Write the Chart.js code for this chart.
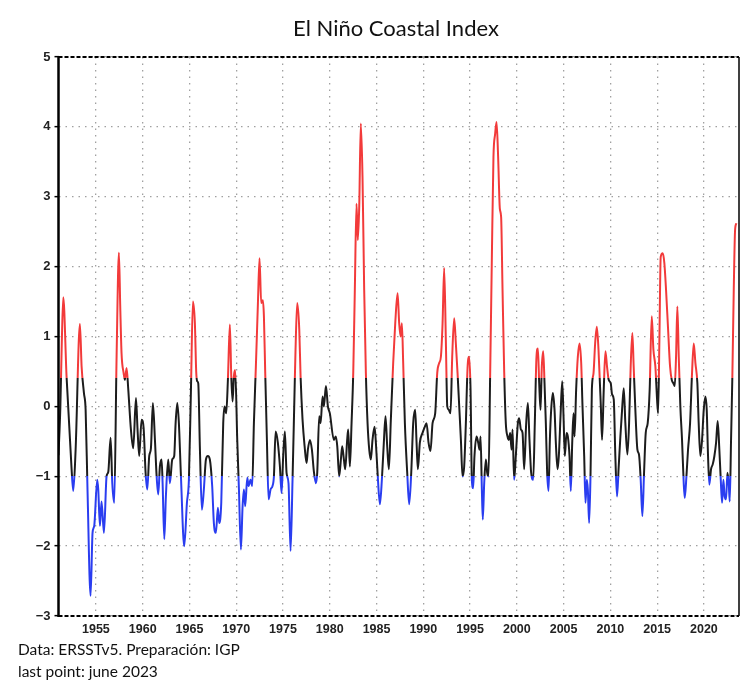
<!DOCTYPE html>
<html>
<head>
<meta charset="utf-8">
<title>El Niño Coastal Index</title>
<script src="https://cdn.jsdelivr.net/npm/chart.js@4.4.1/dist/chart.umd.min.js"></script>
<style>
  html, body { margin: 0; padding: 0; background: #fff; }
  #wrap { position: relative; width: 741px; height: 686px; overflow: hidden; }
  #chart { position: absolute; left: 0; top: 0; }
  .txt { position: absolute; font-family: Lato, "Open Sans", sans-serif; color: #111; white-space: nowrap; }
  #title { left: 396px; top: 14px; font-size: 22px; transform: translateX(-50%); }
  #src { left: 18px; top: 640px; font-size: 15.5px; }
  #last { left: 18px; top: 662px; font-size: 15.5px; }
</style>
</head>
<body>
<div id="wrap">
  <canvas id="chart" width="741" height="686"></canvas>
  <div class="txt" id="title">El Niño Coastal Index</div>
  <div class="txt" id="src">Data: ERSSTv5. Preparación: IGP</div>
  <div class="txt" id="last">last point: june 2023</div>
</div>
<script>
// fechas (año decimal) y valores del índice
const years = [
  1951.00, 1951.20, 1951.35, 1951.51, 1951.86, 1952.40, 1952.58, 1952.83, 1953.29, 1953.47,
  1953.72, 1953.90, 1954.10, 1954.43, 1954.64, 1954.82, 1955.14, 1955.25, 1955.43, 1955.60,
  1955.86, 1956.14, 1956.32, 1956.57, 1956.75, 1956.96, 1957.21, 1957.46, 1957.60, 1957.74,
  1957.96, 1958.10, 1958.28, 1958.46, 1958.74, 1958.99, 1959.28, 1959.45, 1959.63, 1959.88,
  1960.10, 1960.31, 1960.49, 1960.70, 1960.88, 1961.09, 1961.31, 1961.49, 1961.66, 1961.84,
  1962.02, 1962.13, 1962.31, 1962.48, 1962.73, 1962.91, 1963.16, 1963.37, 1963.52, 1963.70,
  1963.87, 1964.09, 1964.44, 1964.73, 1964.94, 1965.16, 1965.37, 1965.58, 1965.72, 1965.83,
  1965.94, 1966.12, 1966.33, 1966.54, 1966.76, 1966.97, 1967.18, 1967.43, 1967.61, 1967.83,
  1968.04, 1968.18, 1968.40, 1968.61, 1968.75, 1968.93, 1969.11, 1969.32, 1969.47, 1969.61,
  1969.75, 1969.89, 1970.11, 1970.29, 1970.50, 1970.68, 1970.82, 1970.96, 1971.18, 1971.32,
  1971.53, 1971.71, 1971.89, 1972.10, 1972.32, 1972.49, 1972.67, 1972.85, 1972.96, 1973.10,
  1973.28, 1973.46, 1973.67, 1973.88, 1974.03, 1974.21, 1974.45, 1974.67, 1974.85, 1975.02,
  1975.20, 1975.38, 1975.59, 1975.81, 1976.02, 1976.24, 1976.34, 1976.52, 1976.74, 1976.88,
  1977.09, 1977.31, 1977.52, 1977.66, 1977.88, 1978.09, 1978.30, 1978.52, 1978.66, 1978.87,
  1979.02, 1979.23, 1979.37, 1979.59, 1979.80, 1980.01, 1980.44, 1980.65, 1980.80, 1981.01,
  1981.19, 1981.33, 1981.51, 1981.65, 1981.86, 1981.97, 1982.15, 1982.33, 1982.51, 1982.68,
  1982.86, 1983.00, 1983.15, 1983.32, 1983.50, 1983.68, 1983.86, 1984.04, 1984.22, 1984.39,
  1984.57, 1984.79, 1984.93, 1985.11, 1985.36, 1985.57, 1985.78, 1985.96, 1986.14, 1986.32,
  1986.53, 1986.78, 1987.00, 1987.25, 1987.42, 1987.57, 1987.71, 1987.85, 1988.03, 1988.28,
  1988.49, 1988.71, 1988.92, 1989.13, 1989.28, 1989.42, 1989.63, 1989.92, 1990.17, 1990.35,
  1990.56, 1990.77, 1990.99, 1991.27, 1991.49, 1991.70, 1991.88, 1992.06, 1992.23, 1992.41,
  1992.56, 1992.73, 1992.91, 1993.09, 1993.30, 1993.48, 1993.66, 1993.84, 1994.02, 1994.19,
  1994.37, 1994.55, 1994.73, 1994.90, 1995.05, 1995.19, 1995.33, 1995.47, 1995.69, 1995.87,
  1996.01, 1996.12, 1996.26, 1996.36, 1996.51, 1996.69, 1996.83, 1996.97, 1997.15, 1997.33,
  1997.50, 1997.68, 1997.83, 1998.00, 1998.18, 1998.32, 1998.47, 1998.65, 1998.82, 1999.00,
  1999.14, 1999.29, 1999.43, 1999.54, 1999.71, 1999.89, 2000.11, 2000.25, 2000.43, 2000.61,
  2000.78, 2001.00, 2001.18, 2001.35, 2001.53, 2001.75, 2001.92, 2002.10, 2002.25, 2002.39,
  2002.53, 2002.67, 2002.82, 2002.96, 2003.10, 2003.24, 2003.39, 2003.53, 2003.67, 2003.85,
  2004.03, 2004.17, 2004.35, 2004.49, 2004.67, 2004.85, 2004.99, 2005.13, 2005.31, 2005.45,
  2005.63, 2005.77, 2005.92, 2006.06, 2006.17, 2006.34, 2006.52, 2006.70, 2006.88, 2007.02,
  2007.20, 2007.34, 2007.48, 2007.59, 2007.73, 2007.88, 2008.02, 2008.20, 2008.37, 2008.55,
  2008.73, 2008.98, 2009.11, 2009.29, 2009.47, 2009.64, 2009.82, 2010.04, 2010.18, 2010.36,
  2010.53, 2010.71, 2010.89, 2011.07, 2011.25, 2011.43, 2011.60, 2011.82, 2012.00, 2012.17,
  2012.35, 2012.49, 2012.67, 2012.89, 2013.06, 2013.24, 2013.42, 2013.60, 2013.78, 2013.99,
  2014.20, 2014.42, 2014.60, 2014.81, 2014.99, 2015.10, 2015.24, 2015.38, 2015.60, 2015.77,
  2015.95, 2016.17, 2016.38, 2016.56, 2016.74, 2016.88, 2017.02, 2017.16, 2017.31, 2017.48,
  2017.66, 2017.84, 2017.95, 2018.13, 2018.30, 2018.52, 2018.73, 2018.91, 2019.09, 2019.30,
  2019.44, 2019.62, 2019.80, 2019.98, 2020.16, 2020.30, 2020.44, 2020.58, 2020.76, 2020.94,
  2021.12, 2021.30, 2021.47, 2021.65, 2021.80, 2021.94, 2022.08, 2022.22, 2022.37, 2022.51,
  2022.65, 2022.76, 2022.90, 2023.04, 2023.19, 2023.33, 2023.47
];

const icen = [
  -0.70, 0.00, 0.90, 1.56, 0.43, -0.90, -1.21, -0.62, 1.18, 0.57,
  0.19, -0.05, -1.19, -2.71, -1.81, -1.71, -1.05, -1.19, -1.71, -1.36,
  -1.81, -1.00, -0.94, -0.45, -1.10, -1.38, 0.71, 2.20, 1.43, 0.76,
  0.48, 0.38, 0.55, 0.24, -0.33, -0.60, 0.12, -0.33, -0.71, -0.19,
  -0.31, -0.95, -1.19, -0.71, -0.60, 0.05, -0.48, -1.00, -1.26, -0.86,
  -0.76, -1.10, -1.90, -1.29, -0.76, -1.10, -0.76, -0.71, -0.24, 0.05,
  -0.24, -1.00, -2.00, -1.38, -1.05, 0.24, 1.50, 1.19, 0.50, 0.36,
  0.33, -0.62, -1.48, -1.19, -0.76, -0.71, -0.76, -1.14, -1.67, -1.81,
  -1.45, -1.67, -1.38, -0.24, 0.00, -0.10, 0.38, 1.17, 0.43, 0.07,
  0.43, 0.52, -0.48, -1.19, -2.05, -1.43, -1.19, -1.43, -1.02, -1.14,
  -1.05, -1.14, -0.24, 0.57, 1.48, 2.12, 1.48, 1.52, 1.29, 0.48,
  -0.48, -1.33, -1.19, -1.14, -1.00, -0.36, -0.52, -0.86, -1.24, -0.71,
  -0.36, -0.95, -1.10, -2.07, -1.05, 0.24, 0.81, 1.48, 1.10, 0.43,
  -0.19, -0.57, -0.81, -0.62, -0.48, -0.62, -0.93, -1.10, -0.95, -0.14,
  -0.24, 0.14, 0.00, 0.29, 0.00, -0.10, -0.48, -0.43, -0.57, -1.00,
  -0.76, -0.57, -0.76, -0.90, -0.48, -0.33, -0.86, -0.24, 0.48, 1.67,
  2.90, 2.38, 2.86, 4.05, 3.29, 1.67, 0.48, -0.24, -0.62, -0.76,
  -0.48, -0.29, -0.52, -0.95, -1.40, -1.05, -0.52, -0.14, -0.57, -0.90,
  -0.19, 0.62, 1.19, 1.62, 1.19, 1.00, 1.19, 0.62, -0.24, -0.95,
  -1.40, -0.95, -0.24, -0.05, -0.52, -0.90, -0.52, -0.38, -0.29, -0.24,
  -0.52, -0.64, -0.24, -0.10, 0.48, 0.62, 0.71, 1.19, 1.98, 0.95,
  0.00, -0.05, -0.10, 0.71, 1.26, 0.90, 0.48, 0.00, -0.48, -1.00,
  -0.86, -0.24, 0.55, 0.71, 0.24, -1.05, -1.17, -0.71, -0.43, -0.52,
  -0.62, -0.43, -1.19, -1.62, -1.10, -0.76, -0.95, -1.00, 0.48, 2.14,
  3.57, 3.90, 4.07, 3.57, 2.83, 2.71, 1.67, 0.48, -0.24, -0.43,
  -0.48, -0.38, -0.62, -0.33, -1.05, -0.71, -0.24, -0.17, -0.33, -0.38,
  -0.90, -0.24, 0.05, -0.48, -0.95, -1.05, -0.24, 0.71, 0.83, 0.33,
  -0.05, 0.57, 0.79, 0.33, -0.24, -0.95, -1.21, -0.48, -0.05, 0.19,
  -0.05, -0.52, -0.90, -0.71, -0.14, 0.36, -0.14, -0.71, -0.38, -0.43,
  -0.71, -1.21, -0.52, -0.10, -0.43, 0.24, 0.71, 0.90, 0.62, 0.00,
  -0.71, -1.38, -1.05, -1.19, -1.67, -0.95, 0.24, 0.48, 0.90, 1.14,
  0.81, 0.00, -0.48, 0.24, 0.79, 0.57, 0.38, 0.33, 0.17, 0.10,
  -0.71, -1.29, -0.86, -0.43, -0.05, 0.26, -0.24, -0.69, -0.24, 0.57,
  1.05, 0.57, -0.05, -0.62, -0.69, -1.05, -1.57, -0.95, -0.38, -0.24,
  0.24, 1.29, 0.81, 0.57, 0.10, -0.10, 0.95, 2.14, 2.19, 2.05,
  1.67, 1.10, 0.57, 0.38, 0.33, 0.29, 0.71, 1.43, 0.71, 0.00,
  -0.48, -1.10, -1.31, -1.00, -0.62, -0.24, 0.48, 0.90, 0.62, 0.33,
  -0.24, -0.71, -0.48, -0.05, 0.14, -0.05, -0.71, -1.12, -0.90, -0.83,
  -0.71, -0.52, -0.21, -0.62, -1.05, -1.38, -1.05, -1.29, -1.33, -0.95,
  -1.10, -1.36, -0.48, 0.43, 1.67, 2.52, 2.62
];

const xTicks = [1955, 1960, 1965, 1970, 1975, 1980, 1985, 1990, 1995, 2000, 2005, 2010, 2015, 2020];
const yTicks = [-3, -2, -1, 0, 1, 2, 3, 4, 5];

// umbrales de color: cálido > 0.4, frío < -1.0
const warmLimit = 0.4;
const coldLimit = -1.0;

const RED = '#f23a3a';
const BLUE = '#2a3df0';
const BLACK = '#1c1c1c';

function lineColor(context) {
  const chart = context.chart;
  const area = chart.chartArea;
  if (!area) return BLACK;
  const y = chart.scales.y;
  const h = area.bottom - area.top;
  const pWarm = (y.getPixelForValue(warmLimit) - area.top) / h;
  const pCold = (y.getPixelForValue(coldLimit) - area.top) / h;
  const g = chart.ctx.createLinearGradient(0, area.top, 0, area.bottom);
  g.addColorStop(0, RED);
  g.addColorStop(pWarm, RED);
  g.addColorStop(pWarm, BLACK);
  g.addColorStop(pCold, BLACK);
  g.addColorStop(pCold, BLUE);
  g.addColorStop(1, BLUE);
  return g;
}

// marco: eje izquierdo sólido, arriba y abajo discontinuos
const frame = {
  id: 'frame',
  afterDatasetsDraw(chart) {
    const { ctx, chartArea: a } = chart;
    ctx.save();
    ctx.strokeStyle = '#000';
    ctx.lineWidth = 2;
    ctx.setLineDash([4, 2]);
    ctx.beginPath();
    ctx.moveTo(a.left, a.top); ctx.lineTo(a.right, a.top);
    ctx.moveTo(a.left, a.bottom); ctx.lineTo(a.right, a.bottom);
    ctx.stroke();
    ctx.setLineDash([]);
    ctx.lineWidth = 1.5;
    ctx.beginPath();
    ctx.moveTo(a.right, a.top); ctx.lineTo(a.right, a.bottom);
    ctx.stroke();
    ctx.lineWidth = 2.5;
    ctx.beginPath();
    ctx.moveTo(a.left, a.top - 1); ctx.lineTo(a.left, a.bottom + 1);
    ctx.stroke();
    ctx.restore();
  }
};

const tickFont = { family: '"Liberation Sans", Arial, sans-serif', weight: 'bold', size: 13 };
const gridStyle = { color: '#a0a0a0', lineWidth: 1.3 };

new Chart(document.getElementById('chart'), {
  type: 'line',
  data: {
    datasets: [{
      data: years.map((x, i) => ({ x: x, y: icen[i] })),
      borderColor: lineColor,
      borderWidth: 2,
      pointRadius: 0,
      cubicInterpolationMode: 'monotone',
      fill: false
    }]
  },
  options: {
    responsive: false,
    animation: false,
    layout: { padding: { top: 57, right: 2, left: 0, bottom: 0 } },
    plugins: { legend: { display: false }, tooltip: { enabled: false } },
    scales: {
      x: {
        type: 'linear',
        min: 1951,
        max: 2023.75,
        afterBuildTicks: s => { s.ticks = xTicks.map(v => ({ value: v })); },
        afterFit: s => { s.height = 70; },
        grid: { ...gridStyle, drawTicks: false },
        border: { display: false, dash: [1.5, 5] },
        ticks: {
          padding: 6, maxRotation: 0, autoSkip: false,
          font: { ...tickFont, size: 12.5 }, color: '#222',
          callback: v => String(v)
        }
      },
      y: {
        min: -3,
        max: 5,
        afterBuildTicks: s => { s.ticks = yTicks.map(v => ({ value: v })); },
        afterFit: s => { s.width = 58.5; },
        grid: { ...gridStyle, tickLength: 4, tickColor: '#000', tickWidth: 1.5 },
        border: { display: false, dash: [1.5, 5] },
        ticks: {
          padding: 4,
          font: tickFont, color: '#222',
          callback: v => (v < 0 ? '\u2212' + Math.abs(v) : String(v))
        }
      }
    }
  },
  plugins: [frame]
});
</script>
</body>
</html>
